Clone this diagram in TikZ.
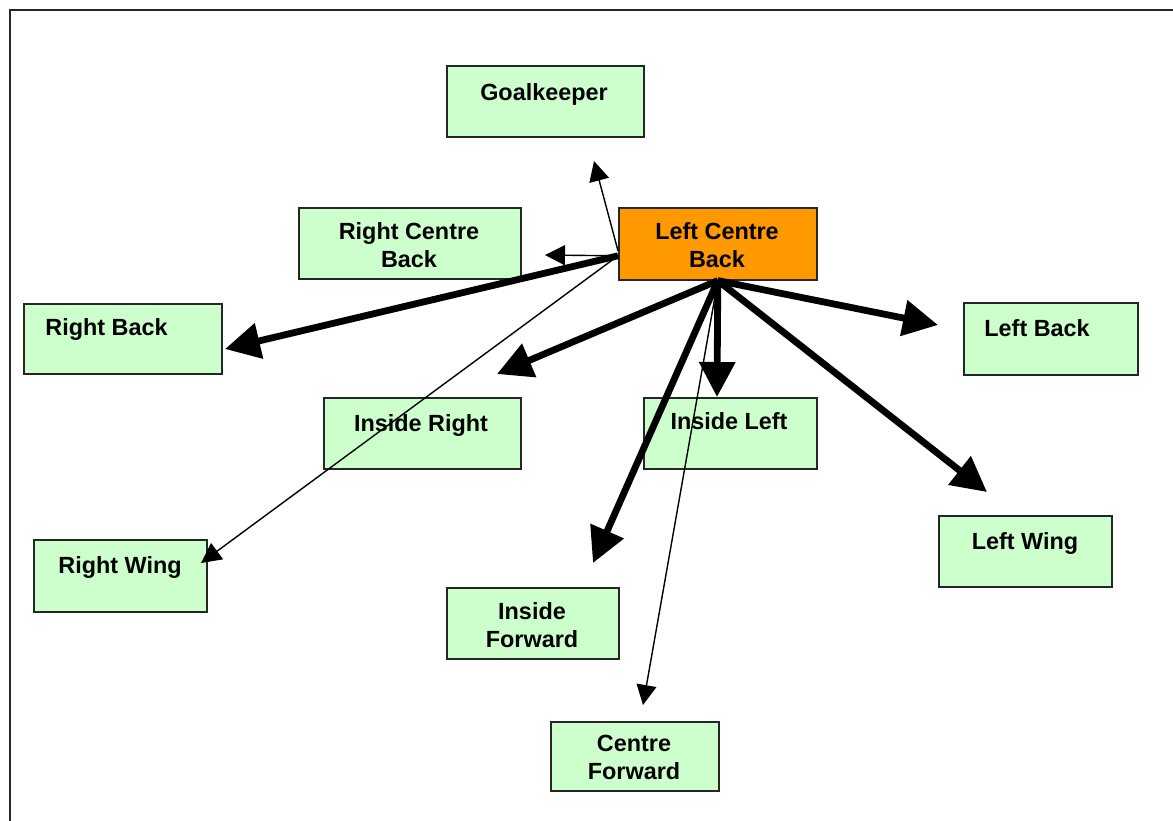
\documentclass[tikz,border=0pt]{standalone}
\usepackage{fontspec}
\setmainfont{Liberation Sans}
\usetikzlibrary{arrows.meta,calc}
\definecolor{boxgreen}{HTML}{CCFFCC}
\definecolor{boxorange}{HTML}{FF9900}
\tikzset{
  frame/.style={draw=black!85, line width=1pt},
  gbox/.style={draw=black!85, line width=0.8pt, fill=boxgreen, anchor=north west, inner sep=0pt},
  obox/.style={gbox, fill=boxorange},
  txt/.style={font=\fontsize{11.7}{14}\selectfont\bfseries, inner sep=0pt, anchor=base, align=center},
  thickarr/.style={line width=3.4pt, -{Triangle[length=17.5pt,width=17.5pt]}},
  thinarr/.style={line width=0.7pt, -{Triangle[length=10pt,width=10pt]}}
}
\begin{document}
\begin{tikzpicture}[x=0.5pt,y=-0.5pt]
\useasboundingbox (0,0) rectangle (1173,820);
\draw[frame] (9.5,830) -- (9.5,10) -- (1185,10);

% boxes
\node[gbox, minimum width=98.5pt, minimum height=35.5pt] (gk) at (446,65) {};
\node[gbox, minimum width=111pt, minimum height=35.5pt] (rcb) at (298,207) {};
\node[obox, minimum width=99pt, minimum height=36pt] (lcb) at (618,207) {};
\node[gbox, minimum width=99pt, minimum height=35pt] (rb) at (23,303) {};
\node[gbox, minimum width=87pt, minimum height=36pt] (lb) at (963,302) {};
\node[gbox, minimum width=98.5pt, minimum height=35.5pt] (ir) at (323,397) {};
\node[gbox, minimum width=86.5pt, minimum height=35.5pt] (il) at (643,397) {};
\node[gbox, minimum width=86.5pt, minimum height=36pt] (rw) at (33,539) {};
\node[gbox, minimum width=86.5pt, minimum height=35.5pt] (lw) at (938,515) {};
\node[gbox, minimum width=86pt, minimum height=35.5pt] (ifw) at (446,587) {};
\node[gbox, minimum width=84pt, minimum height=34.5pt] (cf) at (550,721) {};

% texts (multi-line nodes: base = last line)
\node[txt] (gkT) at (544,100) {Goalkeeper};
\node[txt] (rcbT) at (409,267) {Right Centre\\Back};
\node[txt] (lcbT) at (717,267.5) {Left Centre\\Back};
\node[txt, anchor=base west] (rbT) at (45,335) {Right Back};
\node[txt, anchor=base west] (lbT) at (984,336) {Left Back};
\node[txt] (irT) at (421,431) {Inside Right};
\node[txt] (ilT) at (729,429) {Inside Left};
\node[txt] (rwT) at (120,573) {Right Wing};
\node[txt] (lwT) at (1025,549) {Left Wing};
\node[txt] (ifT) at (532,647) {Inside\\Forward};
\node[txt] (cfT) at (634,779) {Centre\\Forward};

% connector ends
\coordinate (sGK) at ([yshift=-3.5pt]lcb.west);
\coordinate (sL) at ([yshift=-6pt]lcb.west);
\coordinate (sB) at (lcb.south);
\coordinate (tGK) at (594,161);
\coordinate (tRCB) at (545,255);
\coordinate (tRB) at (225,349);
\coordinate (tRW) at (201,563);
\coordinate (tIR) at (497,374);
\coordinate (tIL) at (717,397);
\coordinate (tIF) at (593,563);
\coordinate (tCF) at (643,705);
\coordinate (tLB) at (938,325);
\coordinate (tLW) at (987,492);

% connectors
\draw[thinarr] (sGK) -- (tGK);
\draw[thinarr] (sL) -- (tRCB);
\draw[thickarr] (sL) -- (tRB);
\draw[thinarr] (sL) -- (tRW);
\draw[thickarr] (sB) -- (tIR);
\draw[thickarr] (sB) -- (tIL);
\draw[thickarr] (sB) -- (tIF);
\draw[thinarr] (sB) -- (tCF);
\draw[thickarr] (sB) -- (tLB);
\draw[thickarr] (sB) -- (tLW);
\end{tikzpicture}
\end{document}
